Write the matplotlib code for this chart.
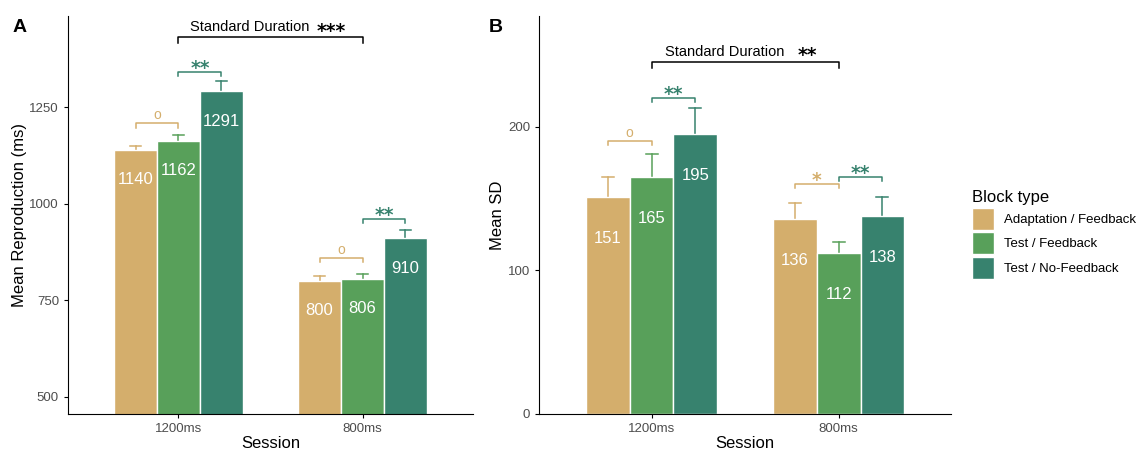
import matplotlib.pyplot as plt
import numpy as np
from matplotlib.patches import Patch

plt.rcParams['font.family'] = ['Liberation Sans', 'DejaVu Sans']

# data
sessions = ["1200ms", "800ms"]
blocks = ["Adaptation / Feedback", "Test / Feedback", "Test / No-Feedback"]
warna = ["#D4AE6C", "#58A05A", "#37826E"]

repro_mean = [[1140, 800], [1162, 806], [1291, 910]]
repro_se = [[10, 12], [15, 11], [26, 22]]
sd_mean = [[151, 136], [165, 112], [195, 138]]
sd_se = [[14, 11], [16, 8], [18, 13]]

# bracket: (bar_a, bar_b, session, tinggi, label, warna index)
brackets_A = [(1, 2, 0, 1341, "**", 2), (0, 1, 0, 1208, "o", 0),
              (1, 2, 1, 960, "**", 2), (0, 1, 1, 859, "o", 0)]
brackets_B = [(1, 2, 0, 220, "**", 2), (0, 1, 0, 190, "o", 0),
              (0, 1, 1, 160, "*", 0), (1, 2, 1, 165, "**", 2)]
sd_bracket_A = (1431, "***", 33)
sd_bracket_B = (245, "**", 37.5)

lebar = 0.7 / 3
x = np.arange(1, 3)


def tulis_sig(ax, xc, h, lab, col):
    # bintang pakai DejaVu tebal biar bentuknya mirip
    if lab == "o":
        ax.annotate(lab, (xc, h), xytext=(0, 3.0), textcoords='offset points',
                    ha='center', va='baseline', color=col, fontsize=10,
                    annotation_clip=False)
    else:
        ax.annotate(lab, (xc, h), xytext=(0, -1.5), textcoords='offset points',
                    ha='center', va='baseline', color=col, fontsize=13.5,
                    family='DejaVu Sans', fontweight='bold', annotation_clip=False)


def gambar_panel(ax, mean, se, label_off, ylim, yticks, ylabel, brackets, sdb, drop):
    for i in range(3):
        pos = x + (i - 1) * lebar
        ax.bar(pos, mean[i], width=lebar, color=warna[i], edgecolor='white',
               linewidth=1.0, zorder=2)
        for p, m, s in zip(pos, mean[i], se[i]):
            ax.plot([p, p], [m, m + s], color=warna[i], lw=1.1, zorder=1)
            ax.plot([p - 0.032, p + 0.032], [m + s, m + s], color=warna[i], lw=1.1, zorder=1)
            ax.text(p, m - label_off, str(m), color='white', fontsize=12,
                    ha='center', va='center', zorder=3)
    for a, b, s, h, lab, c in brackets:
        xa = x[s] + (a - 1) * lebar
        xb = x[s] + (b - 1) * lebar
        ax.plot([xa, xa, xb, xb], [h - drop, h, h, h - drop], color=warna[c], lw=1.1,
                clip_on=False)
        tulis_sig(ax, (xa + xb) / 2, h, lab, warna[c])
    h, bintang, geser = sdb
    ax.plot([1, 1, 2, 2], [h - drop * 1.3, h, h, h - drop * 1.3], color='black', lw=1.1,
            clip_on=False)
    ax.annotate("Standard Duration", (1.5, h), xytext=(28, 4.2), textcoords='offset points',
                ha='right', va='baseline', fontsize=10.5, color='black', annotation_clip=False)
    ax.annotate(bintang, (1.5, h), xytext=(geser, 0.5), textcoords='offset points',
                ha='left', va='baseline', fontsize=13.5, family='DejaVu Sans',
                fontweight='bold', color='black', annotation_clip=False)

    ax.set_xlim(0.4, 2.6)
    ax.set_ylim(*ylim)
    ax.set_yticks(yticks)
    ax.set_xticks(x)
    ax.set_xticklabels(sessions)
    ax.spines['top'].set_visible(False)
    ax.spines['right'].set_visible(False)
    ax.tick_params(axis='both', labelsize=9.5, labelcolor='#4d4d4d', color='black', length=3)
    ax.set_xlabel("Session", fontsize=12, labelpad=1)
    ax.set_ylabel(ylabel, fontsize=12, labelpad=2)


fig = plt.figure(figsize=(11.43, 4.5), dpi=100)
axA = fig.add_axes([0.0595, 0.08, 0.3543, 0.8844])
axB = fig.add_axes([0.4718, 0.08, 0.3602, 0.8844])

gambar_panel(axA, repro_mean, repro_se, 77, (455, 1486), [500, 750, 1000, 1250],
             "Mean Reproduction (ms)", brackets_A, sd_bracket_A, 11)
gambar_panel(axB, sd_mean, sd_se, 29, (0, 277), [0, 100, 200],
             "Mean SD", brackets_B, sd_bracket_B, 3)

fig.text(0.011, 0.93, "A", fontsize=14, fontweight='bold')
fig.text(0.428, 0.93, "B", fontsize=14, fontweight='bold')

# legend
handles = [Patch(facecolor=warna[i], edgecolor='white', label=blocks[i]) for i in range(3)]
leg = fig.legend(handles=handles, title="Block type", loc='upper left',
                 bbox_to_anchor=(0.842, 0.598), frameon=False, fontsize=9.5,
                 title_fontsize=12, handlelength=1.67, handleheight=2.19,
                 handletextpad=0.8, labelspacing=0.19, borderpad=0.2)
leg._legend_box.align = "left"

plt.savefig('out.png', dpi=100)
